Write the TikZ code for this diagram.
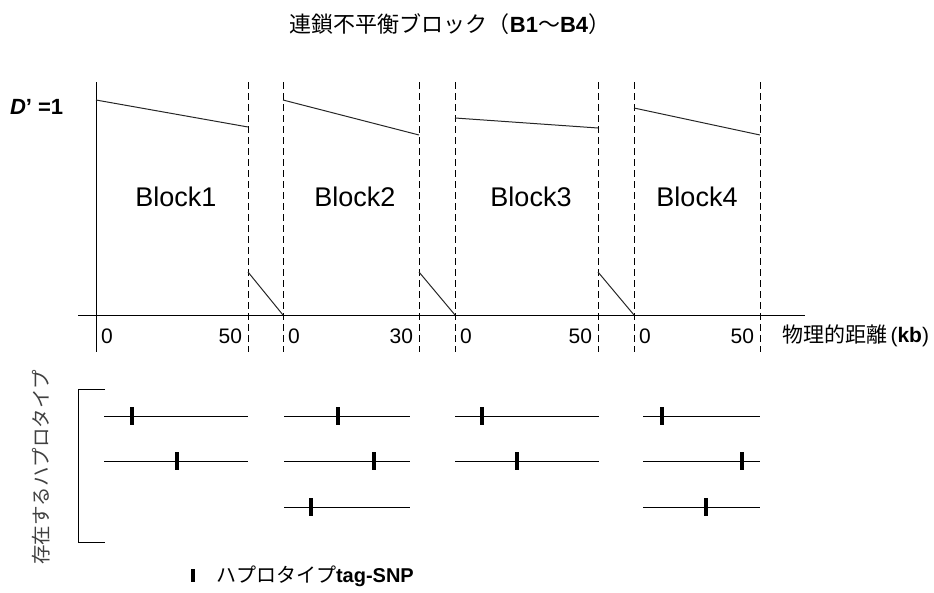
\documentclass[tikz,border=0pt]{standalone}
\usepackage{fontspec}
\setmainfont{Liberation Sans}
\newfontfamily\jp{Noto Sans CJK JP}
\begin{document}
\begin{tikzpicture}[x=1pt,y=-1pt,
  lbl/.style={inner sep=0pt,outer sep=0pt},
  guide/.style={draw=black,line width=0.9pt,dash pattern=on 7pt off 4pt},
  ax/.style={draw=black,line width=1pt},
  ld/.style={draw=black!85,line width=1pt},
  hap/.style={draw=black,line width=1pt},
  tagbar/.style={fill=black,draw=none,minimum width=4.5pt,minimum height=18pt,inner sep=0pt},
  fblock/.style={lbl,font=\fontsize{27}{27}\selectfont},
  ftick/.style={lbl,font=\fontsize{21}{21}\selectfont}]
\useasboundingbox (0,0) rectangle (934,592);
% title
\node[lbl,font=\fontsize{22}{22}\selectfont] (title) at (450,24)
  {{\jp 連鎖不平衡ブロック（}\textbf{B1}{\jp 〜}\textbf{B4}{\jp ）}};
% D'=1
\node[lbl,anchor=west,font=\fontsize{22}{22}\selectfont\bfseries] (dp) at (10,107) {\textit{D}’ =1};
% axes
\coordinate (yT) at (96,82); \coordinate (yB) at (96,352);
\draw[ax] (yT) -- (yB);
\coordinate (xL) at (78,315); \coordinate (xR) at (805,315);
\draw[ax] (xL) -- (xR);
% dashed guides
\foreach \x/\n in {248/g1,283/g2,419/g3,455/g4,598/g5,634/g6,760/g7}{
  \coordinate (\n t) at (\x,82); \coordinate (\n b) at (\x,352);
  \draw[guide] (\n t) -- (\n b);
}
% D' curves
\coordinate (a1) at (96,100); \coordinate (a2) at (248,127);
\coordinate (b1) at (283,100); \coordinate (b2) at (419,135);
\coordinate (c1) at (455,118); \coordinate (c2) at (598,128);
\coordinate (d1) at (634,108); \coordinate (d2) at (760,135);
\draw[ld] (a1) -- (a2); \draw[ld] (b1) -- (b2);
\draw[ld] (c1) -- (c2); \draw[ld] (d1) -- (d2);
% decay lines
\coordinate (e1) at (248,272); \coordinate (e2) at (283,315);
\coordinate (f1) at (419,272); \coordinate (f2) at (455,315);
\coordinate (h1) at (598,272); \coordinate (h2) at (634,315);
\draw[ld] (e1) -- (e2); \draw[ld] (f1) -- (f2); \draw[ld] (h1) -- (h2);
% block labels
\node[fblock] (bl1) at (176,197) {Block1};
\node[fblock] (bl2) at (355,197) {Block2};
\node[fblock] (bl3) at (531,197) {Block3};
\node[fblock] (bl4) at (697,197) {Block4};
% ticks
\node[ftick,anchor=west] (t1) at (101,336) {0};
\node[ftick,anchor=east] (t2) at (242,336) {50};
\node[ftick,anchor=west] (t3) at (288,336) {0};
\node[ftick,anchor=east] (t4) at (413,336) {30};
\node[ftick,anchor=west] (t5) at (460,336) {0};
\node[ftick,anchor=east] (t6) at (592,336) {50};
\node[ftick,anchor=west] (t7) at (639,336) {0};
\node[ftick,anchor=east] (t8) at (754,336) {50};
\node[lbl,anchor=west,font=\fontsize{21}{21}\selectfont] (xlab) at (782,336)
  {{\jp 物理的距離}\,(\textbf{kb})};
% bracket
\coordinate (k1) at (105,389); \coordinate (k2) at (78,389);
\coordinate (k3) at (78,542); \coordinate (k4) at (105,542);
\draw[ax] (k1) -- (k2) -- (k3) -- (k4);
\node[lbl,rotate=90,text=black!75,font=\fontsize{19.5}{20}\selectfont\jp] (ylab) at (41,467) {存在するハプロタイプ};
% haplotypes
\foreach \xa/\xb/\yy/\tx/\n in {104/248/416/132/p1,104/248/461/177/p2,
  284/410/416/338/p3,284/410/461/374/p4,284/410/507/311/p5,
  455/599/416/482/p6,455/599/461/517/p7,
  643/760/416/662/p8,643/760/461/742/p9,643/760/507/706/p10}{
  \coordinate (\n a) at (\xa,\yy); \coordinate (\n b) at (\xb,\yy);
  \draw[hap] (\n a) -- (\n b);
  \node[tagbar] (\n t) at (\tx,\yy) {};
}
% legend
\node[tagbar,minimum height=13pt] (legm) at (193,575) {};
\node[lbl,anchor=west,font=\fontsize{20}{20}\selectfont] (legt) at (216,576)
  {{\jp ハプロタイプ}\textbf{tag-SNP}};
\end{tikzpicture}
\end{document}
